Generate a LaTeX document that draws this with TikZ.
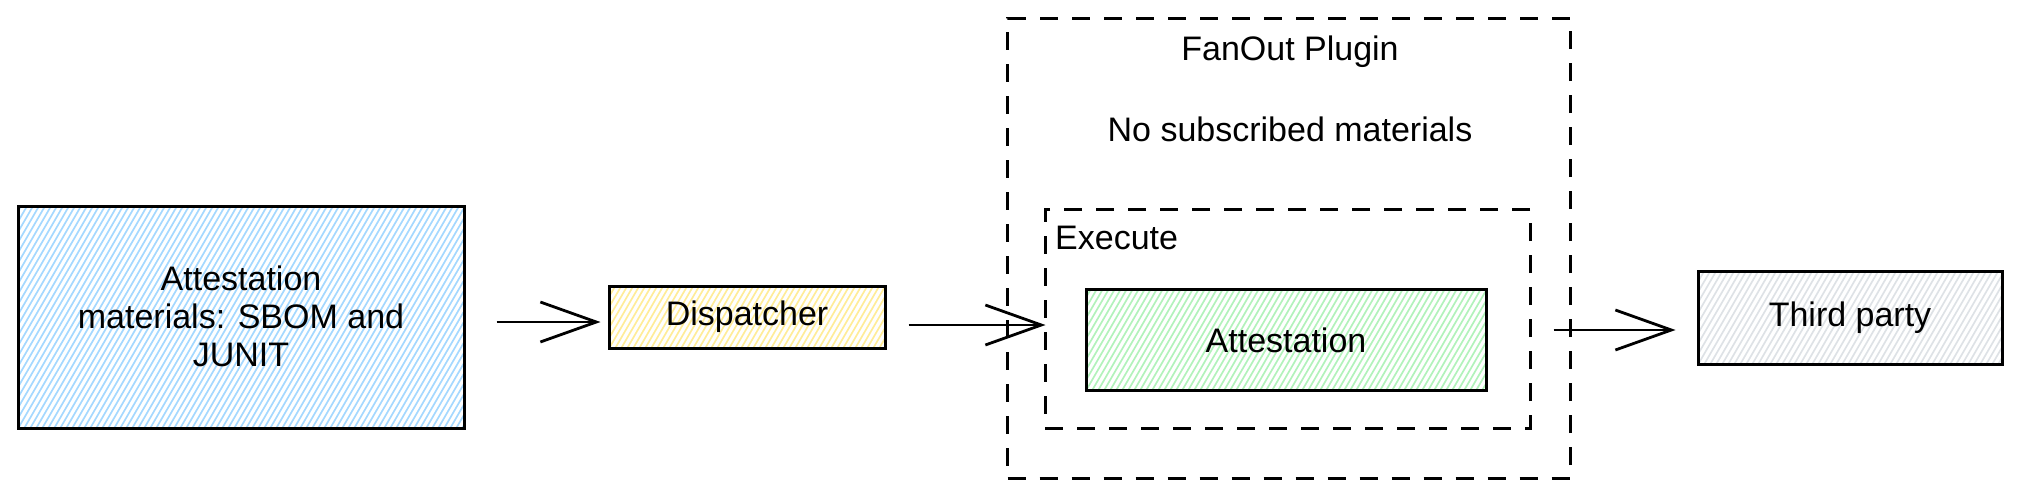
\documentclass[tikz,border=0pt]{standalone}
\usepackage{fontspec}
\setmainfont{Liberation Sans}
\usetikzlibrary{arrows.meta}
\definecolor{hblue}{HTML}{A5D8FF}
\definecolor{hyellow}{HTML}{FFEC99}
\definecolor{hgreen}{HTML}{B2F2BB}
\definecolor{hgray}{HTML}{DEE2E6}
\tikzset{
  hatch/.style={path picture={
    \foreach \k in {0,...,110}{
      \draw[#1, line width=1.7pt]
        ([xshift=\k*6pt-140pt, yshift=-4pt]path picture bounding box.south west) -- ++(145,-250);
    }}},
  sketchbox/.style={draw=black, line width=3pt, inner sep=0pt, align=center},
  dashbox/.style={draw=black, line width=3pt, dash pattern=on 18pt off 14pt, inner sep=0pt},
  lbl/.style={font=\fontsize{34}{38}\selectfont, inner sep=0pt, align=center},
  arr/.style={line width=2.8pt, -{Straight Barb[length=56pt, width=40pt, line width=2.8pt]}},
}
\begin{document}
\begin{tikzpicture}[x=1pt, y=-1pt]
\useasboundingbox (0,0) rectangle (2023,498);
% outer dashed box
\node[dashbox, minimum width=563pt, minimum height=460pt] (plugin) at (1289,248) {};
\node[lbl] (ptitle) at (1290,52) {FanOut Plugin};
\node[lbl] (pnote) at (1290,129) {No subscribed materials};
% inner dashed box
\node[dashbox, minimum width=485pt, minimum height=219pt] (exec) at (1287.5,318.5) {};
\node[lbl, anchor=west] (etitle) at (1055,238) {Execute};
% boxes
\node[sketchbox, hatch=hblue, minimum width=446pt, minimum height=222pt] (src) at (241,317) {};
\node[lbl] (srctext) at (241,316) {Attestation\\materials: SBOM and\\JUNIT};
\node[sketchbox, hatch=hyellow, minimum width=276pt, minimum height=62pt] (disp) at (747,317) {};
\node[lbl] (disptext) at (747,317) {Dispatcher};
\node[sketchbox, hatch=hgreen, minimum width=400pt, minimum height=101pt] (att) at (1286,339.5) {};
\node[lbl] (atttext) at (1286,340) {Attestation};
\node[sketchbox, hatch=hgray, minimum width=304pt, minimum height=93pt] (third) at (1850,317.5) {};
\node[lbl] (thirdtext) at (1850,318) {Third party};
% arrows
\draw[arr, shorten <=31pt, shorten >=7pt] ([yshift=-5pt]src.east) -- ([yshift=-5pt]disp.west);
\draw[arr, shorten <=22pt, shorten >=-2pt] ([yshift=-8pt]disp.east) -- ([yshift=-8pt]disp.east -| exec.west);
\draw[arr, shorten <=22pt, shorten >=21pt] ([yshift=-11.5pt]exec.east) -- ([yshift=-11.5pt]exec.east -| third.west);
\end{tikzpicture}
\end{document}
